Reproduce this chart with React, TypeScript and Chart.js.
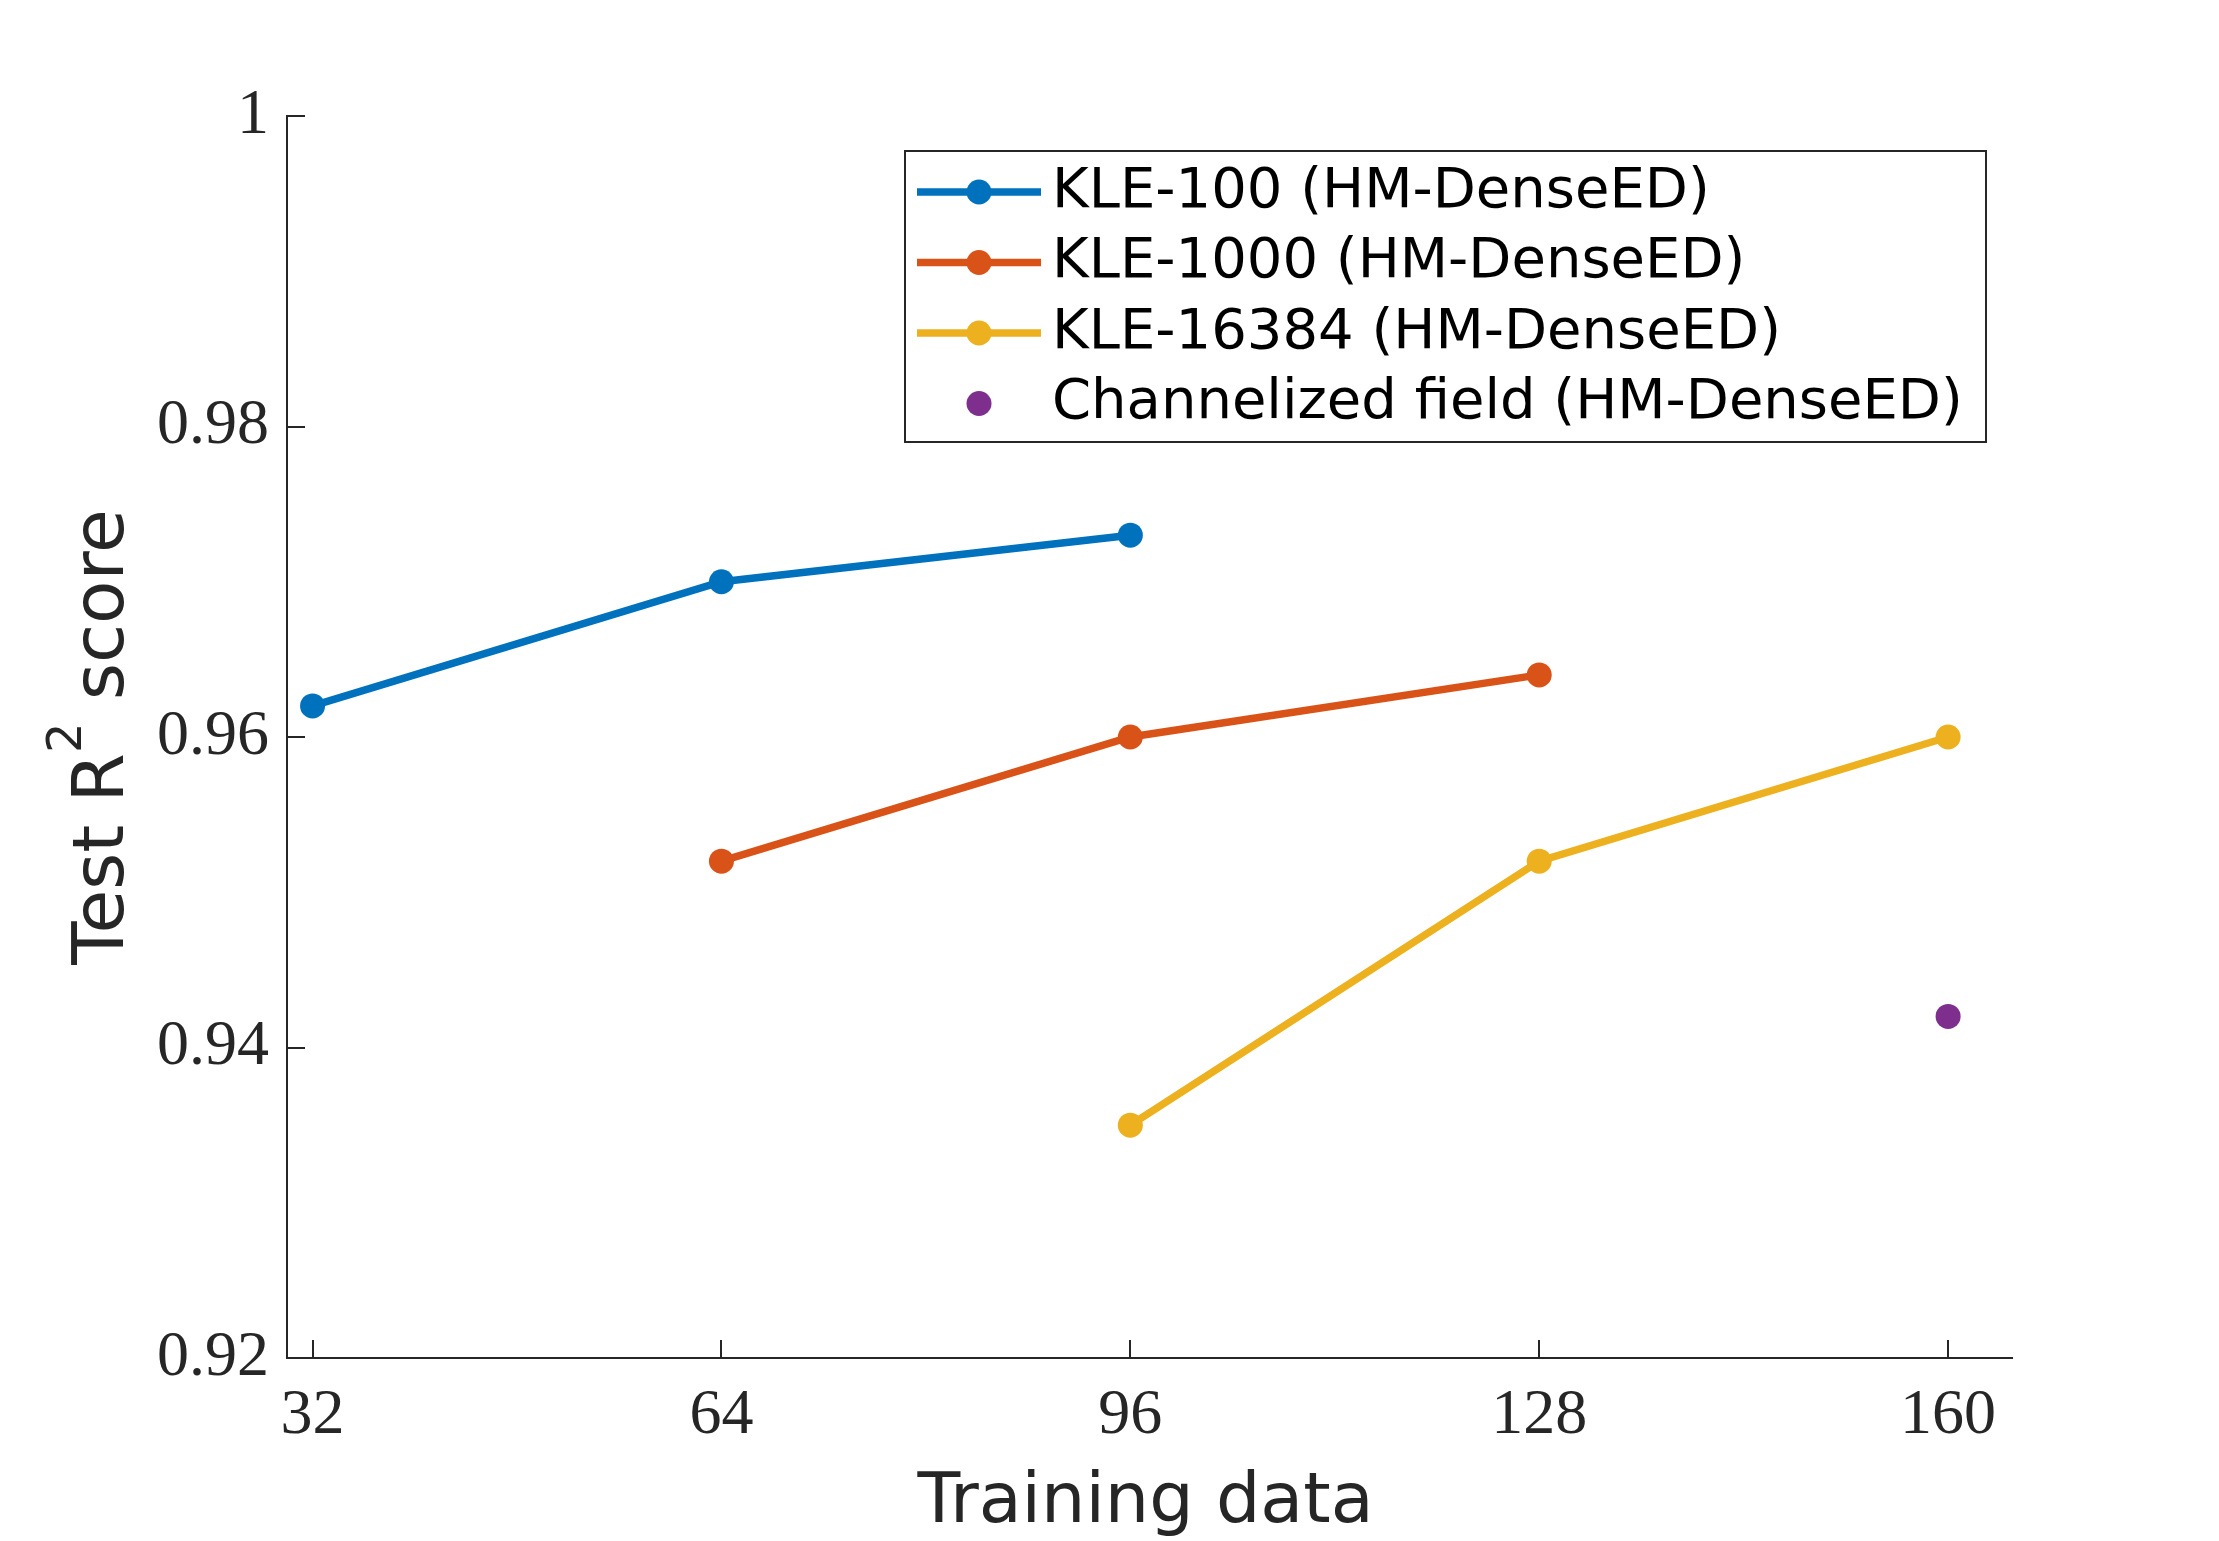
import React, { useEffect, useRef } from "react";
import { Chart, registerables } from "chart.js";

Chart.register(...registerables);

// ---- data ----
const xTicks = [32, 64, 96, 128, 160];
const yTicks = [0.92, 0.94, 0.96, 0.98, 1];

const kle100X = [32, 64, 96];
const kle100Y = [0.962, 0.97, 0.973];

const kle1000X = [64, 96, 128];
const kle1000Y = [0.952, 0.96, 0.964];

const kle16384X = [96, 128, 160];
const kle16384Y = [0.935, 0.952, 0.96];

const channelX = [160];
const channelY = [0.942];

const seriesLabels = [
  "KLE-100 (HM-DenseED)",
  "KLE-1000 (HM-DenseED)",
  "KLE-16384 (HM-DenseED)",
  "Channelized field (HM-DenseED)",
];
const seriesColors = ["#0072BD", "#D95319", "#EDB120", "#7E2F8E"];

const xTitle = "Training data";
const yTitleParts = ["Test R", "2", " score"];

// ---- styles ----
const AXIS = "#262626";
const SANS = '"DejaVu Sans"';
const SERIF = '"Liberation Serif"';
const LINE_W = 7.5;
const MARKER_R = 12.5;

const zip = (xs: number[], ys: number[]) => xs.map((x, i) => ({ x, y: ys[i] }));

const decoPlugin = {
  id: "deco",
  afterDraw(chart: any) {
    const ctx: CanvasRenderingContext2D = chart.ctx;
    const a = chart.chartArea;
    const xs = chart.scales.x;
    const ys = chart.scales.y;
    ctx.save();

    // inward tick marks
    ctx.strokeStyle = AXIS;
    ctx.lineWidth = 2;
    ctx.beginPath();
    yTicks.forEach((v) => {
      const py = Math.round(ys.getPixelForValue(v));
      ctx.moveTo(a.left, py);
      ctx.lineTo(a.left + 18, py);
    });
    xTicks.forEach((v) => {
      const px = Math.round(xs.getPixelForValue(v));
      ctx.moveTo(px, a.bottom);
      ctx.lineTo(px, a.bottom - 18);
    });
    ctx.stroke();

    // x title
    ctx.fillStyle = AXIS;
    ctx.font = `70px ${SANS}`;
    ctx.textAlign = "center";
    ctx.textBaseline = "alphabetic";
    ctx.fillText(xTitle, (a.left + a.right) / 2 - 4, 1522);

    // y title (rotated, with superscript)
    ctx.save();
    ctx.translate(123, (a.top + a.bottom) / 2);
    ctx.rotate(-Math.PI / 2);
    ctx.textAlign = "left";
    const mainFont = `71px ${SANS}`;
    const supFont = `48px ${SANS}`;
    ctx.font = mainFont;
    const w0 = ctx.measureText(yTitleParts[0]).width;
    const w2 = ctx.measureText(yTitleParts[2]).width;
    ctx.font = supFont;
    const w1 = ctx.measureText(yTitleParts[1]).width;
    let cx = -(w0 + w1 + w2) / 2;
    ctx.font = mainFont;
    ctx.fillText(yTitleParts[0], cx, 0);
    cx += w0;
    ctx.font = supFont;
    ctx.fillText(yTitleParts[1], cx, -42);
    cx += w1;
    ctx.font = mainFont;
    ctx.fillText(yTitleParts[2], cx, 0);
    ctx.restore();

    // legend
    const bx = 905, by = 151, bw = 1081, bh = 291;
    ctx.fillStyle = "#ffffff";
    ctx.fillRect(bx, by, bw, bh);
    ctx.strokeStyle = AXIS;
    ctx.lineWidth = 2;
    ctx.strokeRect(bx, by, bw, bh);
    chart.data.datasets.forEach((ds: any, i: number) => {
      const ry = 192 + i * 70.5;
      if (ds.showLine) {
        ctx.strokeStyle = ds.borderColor;
        ctx.lineWidth = LINE_W;
        ctx.beginPath();
        ctx.moveTo(917, ry);
        ctx.lineTo(1041, ry);
        ctx.stroke();
      }
      ctx.fillStyle = ds.pointBackgroundColor;
      ctx.beginPath();
      ctx.arc(979, ry, MARKER_R, 0, Math.PI * 2);
      ctx.fill();
      ctx.fillStyle = "#000000";
      ctx.font = `56px ${SANS}`;
      ctx.textAlign = "left";
      ctx.textBaseline = "middle";
      ctx.fillText(ds.label, 1052, ry);
    });

    ctx.restore();
  },
};

export default function App() {
  const ref = useRef<HTMLCanvasElement>(null);

  useEffect(() => {
    document.body.style.margin = "0";
    const canvas = ref.current;
    if (!canvas) return;
    const series = [
      zip(kle100X, kle100Y),
      zip(kle1000X, kle1000Y),
      zip(kle16384X, kle16384Y),
      zip(channelX, channelY),
    ];
    const chart = new Chart(canvas, {
      type: "scatter",
      data: {
        datasets: series.map((d, i) => ({
          label: seriesLabels[i],
          data: d,
          showLine: i < 3,
          borderColor: seriesColors[i],
          backgroundColor: seriesColors[i],
          pointBackgroundColor: seriesColors[i],
          pointBorderWidth: 0,
          pointRadius: MARKER_R,
          borderWidth: LINE_W,
          clip: false as any,
        })),
      },
      options: {
        animation: false,
        responsive: true,
        maintainAspectRatio: false,
        layout: { padding: { left: 0, top: 116, right: 207, bottom: 0 } },
        plugins: {
          legend: { display: false },
          tooltip: { enabled: false },
          title: { display: false },
        },
        scales: {
          x: {
            type: "linear",
            min: 30,
            max: 165,
            afterBuildTicks: (s: any) => {
              s.ticks = xTicks.map((v) => ({ value: v }));
            },
            afterFit: (s: any) => {
              s.height = 183;
            },
            grid: { display: false, drawTicks: false },
            border: { display: true, color: AXIS, width: 2 },
            ticks: {
              color: AXIS,
              font: { family: SERIF, size: 64 },
              padding: 20,
              maxRotation: 0,
              autoSkip: false,
              callback: (v: any) => String(v),
            },
          },
          y: {
            type: "linear",
            min: 0.92,
            max: 1,
            afterBuildTicks: (s: any) => {
              s.ticks = yTicks.map((v) => ({ value: v }));
            },
            afterFit: (s: any) => {
              s.width = 287;
            },
            grid: { display: false, drawTicks: false },
            border: { display: true, color: AXIS, width: 2 },
            ticks: {
              color: AXIS,
              font: { family: SERIF, size: 64 },
              padding: 18,
              autoSkip: false,
              callback: (v: any) => String(Number(Number(v).toFixed(2))),
            },
          },
        },
      },
      plugins: [decoPlugin],
    } as any);
    return () => chart.destroy();
  }, []);

  return (
    <div style={{ width: 2219, height: 1541, position: "relative", background: "#fff" }}>
      <canvas ref={ref} style={{ display: "block" }} />
    </div>
  );
}
